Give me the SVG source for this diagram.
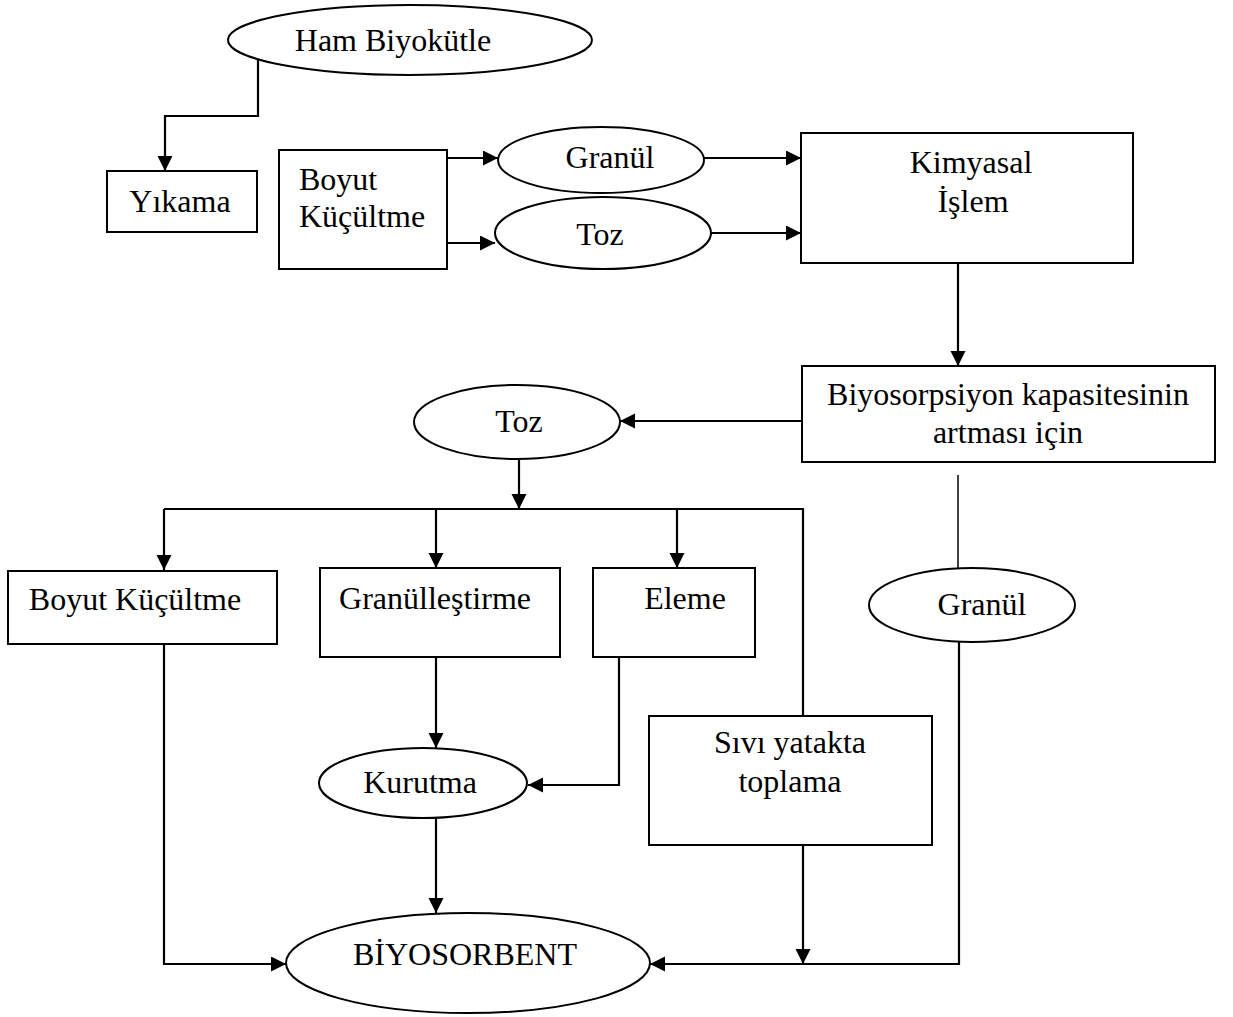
<svg xmlns="http://www.w3.org/2000/svg" width="1233" height="1017" viewBox="0 0 1233 1017">
<defs>
<marker id="ah" markerUnits="userSpaceOnUse" markerWidth="16" markerHeight="16" refX="15" refY="7.5" orient="auto">
<path d="M0,0 L15,7.5 L0,15 Z" fill="#000"/>
</marker>
<style>
.n{fill:#fff;stroke:#000;stroke-width:2}
.t{font-family:"Liberation Serif","Times New Roman",serif;font-size:32px;fill:#000}
.m{text-anchor:middle}
.c{fill:none;stroke:#000;stroke-width:2.2}
.c.a{marker-end:url(#ah)}
.thin{stroke-width:1.5}
</style>
</defs>
<rect width="1233" height="1017" fill="#fff"/>
<g id="connectors">
<polyline class="c a" points="258,58 258,116 165,116 165,171"/>
<line class="c a" x1="447" y1="158" x2="498" y2="158"/>
<line class="c a" x1="447" y1="243" x2="495" y2="243"/>
<line class="c a" x1="704" y1="158" x2="801" y2="158"/>
<line class="c a" x1="705" y1="233" x2="801" y2="233"/>
<line class="c a" x1="958" y1="263" x2="958" y2="366"/>
<line class="c a" x1="802" y1="421" x2="620" y2="421"/>
<line class="c a" x1="519" y1="460" x2="519" y2="509"/>
<polyline class="c" points="164,509 803,509 803,716"/>
<line class="c a" x1="164" y1="509" x2="164" y2="570"/>
<line class="c a" x1="436" y1="509" x2="436" y2="568"/>
<line class="c a" x1="677" y1="509" x2="677" y2="568"/>
<line class="c" x1="620" y1="657" x2="714" y2="657" stroke-width="2.8"/>
<polyline class="c a" points="619,657 619,785 528,785"/>
<line class="c a" x1="436" y1="657" x2="436" y2="748"/>
<line class="c a" x1="436" y1="818" x2="436" y2="913"/>
<polyline class="c a" points="164,644 164,964 286,964"/>
<line class="c a" x1="803" y1="845" x2="803" y2="964"/>
<line class="c thin" x1="958" y1="475" x2="958" y2="568"/>
<polyline class="c a" points="959,642 959,964 650,964"/>
</g>
<g id="ham-biyokutle">
<ellipse class="n" cx="410" cy="40" rx="182" ry="35"/>
<text class="t m" x="393" y="51">Ham Biyokütle</text>
</g>
<g id="yikama">
<rect class="n" x="107" y="171" width="150" height="61"/>
<text class="t m" x="180" y="212">Yıkama</text>
</g>
<g id="boyut-kucultme-1">
<rect class="n" x="279" y="150" width="168" height="119"/>
<text class="t" x="299" y="190">Boyut</text>
<text class="t" x="299" y="227">Küçültme</text>
</g>
<g id="granul-1">
<ellipse class="n" cx="601" cy="160" rx="103" ry="33"/>
<text class="t m" x="610" y="168">Granül</text>
</g>
<g id="toz-1">
<ellipse class="n" cx="603" cy="233" rx="108" ry="36"/>
<text class="t m" x="600" y="245">Toz</text>
</g>
<g id="kimyasal-islem">
<rect class="n" x="801" y="133" width="332" height="130"/>
<text class="t m" x="971" y="173">Kimyasal</text>
<text class="t m" x="973" y="212">İşlem</text>
</g>
<g id="biyosorpsiyon">
<rect class="n" x="802" y="366" width="413" height="96"/>
<text class="t m" x="1008" y="405">Biyosorpsiyon kapasitesinin</text>
<text class="t m" x="1008" y="443">artması için</text>
</g>
<g id="toz-2">
<ellipse class="n" cx="517" cy="422" rx="103" ry="37"/>
<text class="t m" x="519" y="432">Toz</text>
</g>
<g id="granul-2">
<ellipse class="n" cx="972" cy="605" rx="103" ry="37"/>
<text class="t m" x="982" y="615">Granül</text>
</g>
<g id="boyut-kucultme-2">
<rect class="n" x="8" y="571" width="269" height="73"/>
<text class="t m" x="135" y="610">Boyut Küçültme</text>
</g>
<g id="granullestirme">
<rect class="n" x="320" y="568" width="240" height="89"/>
<text class="t m" x="435" y="609">Granülleştirme</text>
</g>
<g id="eleme">
<rect class="n" x="593" y="568" width="162" height="89"/>
<text class="t m" x="685" y="609">Eleme</text>
</g>
<g id="kurutma">
<ellipse class="n" cx="423" cy="783" rx="104" ry="35"/>
<text class="t m" x="420" y="793">Kurutma</text>
</g>
<g id="sivi-yatakta">
<rect class="n" x="649" y="716" width="283" height="129"/>
<text class="t m" x="790" y="753">Sıvı yatakta</text>
<text class="t m" x="790" y="792">toplama</text>
</g>
<g id="biyosorbent">
<ellipse class="n" cx="468" cy="963" rx="182" ry="50"/>
<text class="t m" x="465" y="965">BİYOSORBENT</text>
</g>
</svg>
